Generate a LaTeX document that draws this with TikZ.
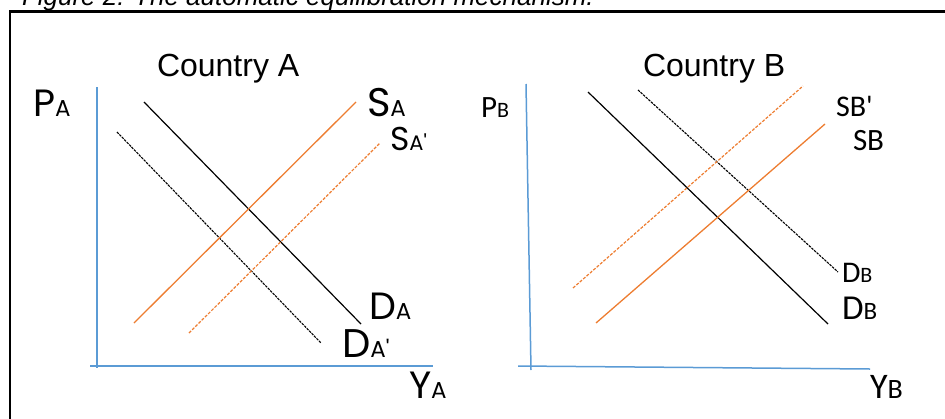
\documentclass[tikz,border=0pt]{standalone}
\usepackage{fontspec}
\setmainfont{Liberation Sans}
\newfontfamily\gothfont{Poppins}
\newfontfamily\calfont{Carlito}
\definecolor{axisblue}{HTML}{5B9BD5}
\definecolor{supplyorange}{HTML}{ED7D31}
\newcommand\twolab[5]{{#1\fontsize{#4}{#4}\selectfont #2}{#1\fontsize{#5}{#5}\selectfont #3}}
\tikzset{
  axisline/.style={draw=axisblue, line width=1.5},
  demand/.style={draw=black, line width=1.2},
  demanddash/.style={draw=black, line width=1.1, dash pattern=on 2.5 off 1},
  supply/.style={draw=supplyorange, line width=1.3},
  supplydash/.style={draw=supplyorange, line width=1.2, dash pattern=on 3 off 1.5},
  lab/.style={anchor=base west, inner sep=0, outer sep=0},
}
\begin{document}
\begin{tikzpicture}[x=1pt,y=-1pt]
\useasboundingbox (0,0) rectangle (945,418);
\begin{scope}
\clip (0,0) rectangle (945,418);
\node[lab, font=\itshape\fontsize{26}{26}\selectfont] (caption) at (22,5) {Figure 2: The automatic equilibration mechanism.};
\draw[line width=2.5] (10,11.5) rectangle (970,440);
\end{scope}

% ---------- Country A ----------
\node[lab, font=\fontsize{32}{32}\selectfont] (titleA) at (157,76) {Country A};
\draw[axisline] (97,87) -- (97,368);
\draw[axisline] (90,366) -- (433,366);
\draw[demand] (144,102) -- (361,324);
\draw[demanddash] (117,132) -- (321,343);
\draw[supply] (134,323) -- (356,102);
\draw[supplydash] (189,333) -- (380,143);
\node[lab] (PA) at (33,116) {\twolab{\gothfont}{P}{A}{38}{23}};
\node[lab] (SA) at (367,116) {\twolab{\gothfont}{S}{A}{40}{23}};
\node[lab] (SAp) at (390,150) {\twolab{\gothfont}{S}{A'}{33}{21}};
\node[lab] (DA) at (369,319) {\twolab{\gothfont}{D}{A}{38}{23}};
\node[lab] (DAp) at (342,357) {\twolab{\gothfont}{D}{A'}{40}{23}};
\node[lab] (YA) at (409,398) {\twolab{\gothfont}{Y}{A}{38}{23}};

% ---------- Country B ----------
\node[lab, font=\fontsize{32}{32}\selectfont] (titleB) at (643,76) {Country B};
\draw[axisline] (526,84) -- (531,370);
\draw[axisline] (518,366) -- (870,369);
\draw[demand] (588,92) -- (828,324);
\draw[demanddash] (638,90) -- (838,272);
\draw[supply] (596,323) -- (825,124);
\draw[supplydash] (573,288) -- (803,86);
\node[lab] (PB) at (481,117) {\twolab{\calfont}{P}{B}{31}{22}};
\node[lab] (SBp) at (836,116) {\twolab{\calfont}{S}{B'}{30}{30}};
\node[lab] (SB) at (853,150) {\twolab{\calfont}{S}{B}{31}{31}};
\node[lab] (DBd) at (842,282) {\twolab{\calfont}{D}{B}{30}{22}};
\node[lab] (DB) at (842,319) {\twolab{\calfont}{D}{B}{35}{25}};
\node[lab] (YB) at (870,398) {\twolab{\calfont}{Y}{B}{36}{28}};
\end{tikzpicture}
\end{document}
